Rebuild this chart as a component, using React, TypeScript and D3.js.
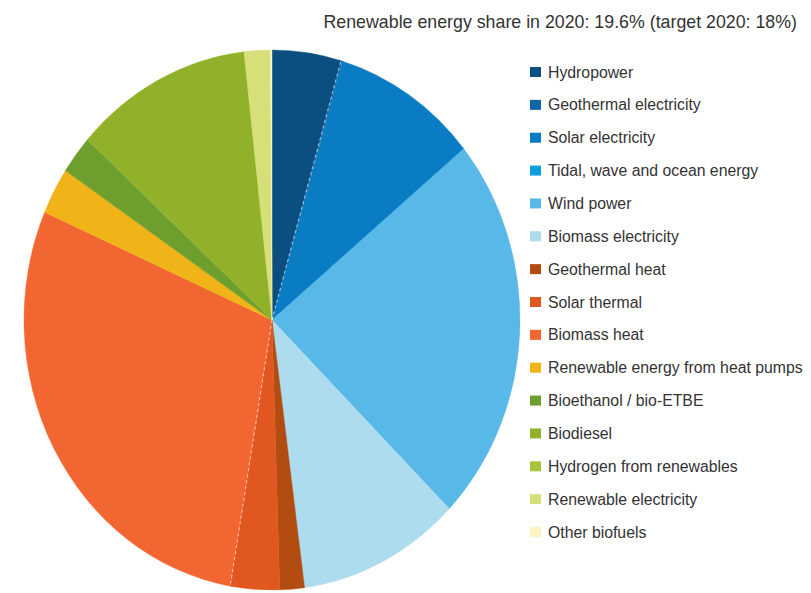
import React from "react";
import * as d3 from "d3";

const categories = [
  "Hydropower",
  "Geothermal electricity",
  "Solar electricity",
  "Tidal, wave and ocean energy",
  "Wind power",
  "Biomass electricity",
  "Geothermal heat",
  "Solar thermal",
  "Biomass heat",
  "Renewable energy from heat pumps",
  "Bioethanol / bio-ETBE",
  "Biodiesel",
  "Hydrogen from renewables",
  "Renewable electricity",
  "Other biofuels",
];

const shares = [4.5, 0.1, 9.5, 0, 23.3, 10.6, 1.6, 3.2, 28.9, 2.8, 2.3, 11.6, 0, 1.7, 0.1];

const colors = [
  "#0b4f80",
  "#0f66a6",
  "#0a7cc4",
  "#0d9ee0",
  "#58b8e8",
  "#acdcee",
  "#b24c10",
  "#e0581f",
  "#f26632",
  "#f0b418",
  "#6e9e2e",
  "#92b12a",
  "#a8c43a",
  "#d6df78",
  "#fff3c2",
];

const dashedAfter = ["Hydropower", "Solar thermal"];

const title = "Renewable energy share in 2020: 19.6% (target 2020: 18%)";

const W = 811;
const H = 593;
const cx = 272;
const cy = 320;
const rx = 248;
const ry = 270;

export default function App() {
  const data = categories.map((c, i) => ({ name: c, value: shares[i], color: colors[i] }));
  const pie = d3
    .pie<any>()
    .sort(null)
    .value((d: any) => d.value);
  const arcs = pie(data);
  const arc = d3.arc<any>().innerRadius(0).outerRadius(rx);

  const legendY = d3.scalePoint<string>().domain(categories).range([72, 532]);

  const dashLines = arcs
    .filter((a) => dashedAfter.includes(a.data.name))
    .map((a) => {
      const ang = a.endAngle;
      return {
        x2: cx + rx * Math.sin(ang),
        y2: cy - ry * Math.cos(ang),
      };
    });

  return (
    <svg
      width={W}
      height={H}
      style={{ position: "fixed", left: 0, top: 0, background: "#fff" }}
      fontFamily="'Liberation Sans', Arial, sans-serif"
    >
      <rect width={W} height={H} fill="#fff" />
      <g transform={`translate(${cx},${cy}) scale(1,${ry / rx})`}>
        {arcs.map((a, i) => (
          <path key={i} d={arc(a) || ""} fill={a.data.color} stroke={a.data.color} strokeWidth={0.4} />
        ))}
      </g>
      {dashLines.map((l, i) => (
        <line
          key={i}
          x1={cx}
          y1={cy}
          x2={l.x2}
          y2={l.y2}
          stroke="#ffffff"
          strokeOpacity={0.55}
          strokeWidth={1.2}
          strokeDasharray="3,3"
        />
      ))}
      <text x={797} y={28} textAnchor="end" fontSize={17.8} fill="#333">
        {title}
      </text>
      {categories.map((c, i) => (
        <g key={c} transform={`translate(530,${legendY(c)})`}>
          <rect x={0} y={-5} width={11} height={10} fill={colors[i]} />
          <text x={18} y={5.5} fontSize={15.8} fill="#333">
            {c}
          </text>
        </g>
      ))}
    </svg>
  );
}
